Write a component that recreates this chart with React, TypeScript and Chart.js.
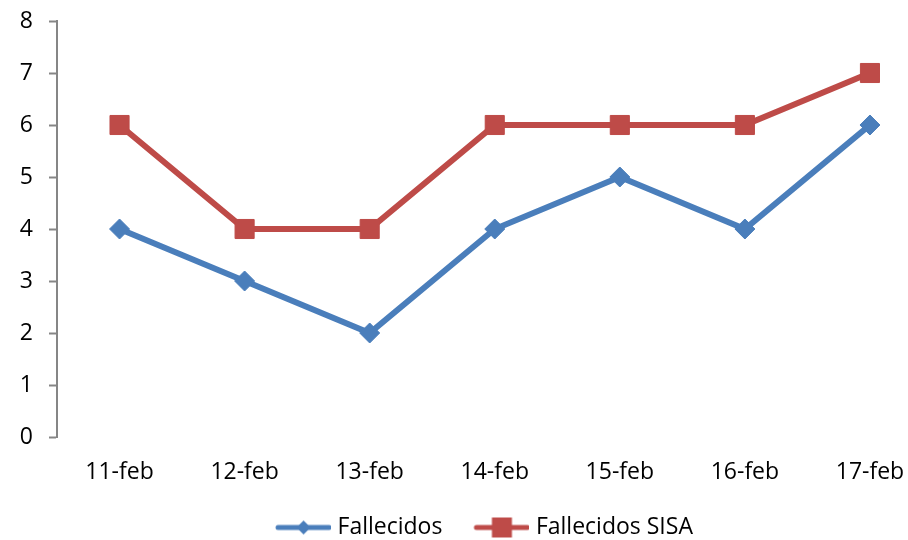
import React, { useEffect, useRef } from "react";
import { Chart, registerables } from "chart.js";

Chart.register(...registerables);

const categories = ["11-feb", "12-feb", "13-feb", "14-feb", "15-feb", "16-feb", "17-feb"];
const fallecidos = [4, 3, 2, 4, 5, 4, 6];
const fallecidosSisa = [6, 4, 4, 6, 6, 6, 7];
const seriesNames = ["Fallecidos", "Fallecidos SISA"];
const yMin = 0;
const yMax = 8;
const yStep = 1;

const BLUE = "#4A7EBB";
const RED = "#BE4B48";
const AXIS = "#868686";
const FONT = "'Open Sans', 'Liberation Sans', sans-serif";
const FS = 23;

function legendImage(color: string, kind: "diamond" | "square"): HTMLCanvasElement {
  const c = document.createElement("canvas");
  c.width = 90;
  c.height = 22;
  const ctx = c.getContext("2d")!;
  ctx.strokeStyle = color;
  ctx.lineWidth = 5;
  ctx.lineCap = "round";
  ctx.beginPath();
  ctx.moveTo(37, 11);
  ctx.lineTo(88, 11);
  ctx.stroke();
  ctx.fillStyle = color;
  const cx = 62.5;
  if (kind === "diamond") {
    ctx.beginPath();
    ctx.moveTo(cx, 4);
    ctx.lineTo(cx + 7, 11);
    ctx.lineTo(cx, 18);
    ctx.lineTo(cx - 7, 11);
    ctx.closePath();
    ctx.fill();
  } else {
    ctx.fillRect(cx - 10, 1, 20, 20);
  }
  return c;
}

export default function App() {
  const ref = useRef<HTMLCanvasElement | null>(null);

  useEffect(() => {
    if (!ref.current) return;
    const imgs = [legendImage(BLUE, "diamond"), legendImage(RED, "square")];
    const chart = new Chart(ref.current, {
      type: "line",
      data: {
        labels: categories,
        datasets: [
          {
            label: seriesNames[0],
            data: fallecidos,
            borderColor: BLUE,
            backgroundColor: BLUE,
            borderWidth: 6,
            pointStyle: "rectRot",
            pointRadius: 10,
            pointBorderWidth: 1,
            pointBorderColor: BLUE,
            pointBackgroundColor: BLUE,
            tension: 0,
          },
          {
            label: seriesNames[1],
            data: fallecidosSisa,
            borderColor: RED,
            backgroundColor: RED,
            borderWidth: 6,
            pointStyle: "rect",
            pointRadius: 13.5,
            pointBorderWidth: 1,
            pointBorderColor: RED,
            pointBackgroundColor: RED,
            tension: 0,
          },
        ],
      },
      options: {
        responsive: false,
        animation: false,
        layout: { padding: { top: 21, left: 0, right: 8, bottom: -9 } },
        scales: {
          x: {
            type: "category",
            offset: true,
            grid: { display: false, drawTicks: false },
            border: { display: false },
            ticks: { padding: 22, color: "#000", font: { family: FONT, size: FS }, maxRotation: 0 },
            afterFit: (s: any) => {
              s.height = 77;
            },
          },
          y: {
            min: yMin,
            max: yMax,
            grid: {
              display: true,
              drawOnChartArea: false,
              drawTicks: true,
              tickLength: 8,
              tickColor: AXIS,
              tickWidth: 2,
            },
            border: { display: true, color: AXIS, width: 2 },
            ticks: { stepSize: yStep, padding: 16, color: "#000", font: { family: FONT, size: FS, lineHeight: 0.3 } },
            afterFit: (s: any) => {
              s.width = 57;
            },
          },
        },
        plugins: {
          tooltip: { enabled: false },
          legend: {
            position: "bottom",
            labels: {
              usePointStyle: true,
              pointStyleWidth: 80,
              boxHeight: 22,
              padding: 2,
              color: "#000",
              font: { family: FONT, size: FS, lineHeight: 1 },
              generateLabels: (c: any) =>
                (Chart.defaults.plugins.legend.labels.generateLabels as any)(c).map((l: any, i: number) => ({
                  ...l,
                  pointStyle: imgs[i],
                })),
            },
          },
        },
      },
    });
    return () => chart.destroy();
  }, []);

  return (
    <div style={{ position: "absolute", left: 0, top: 0, width: 908, height: 540, overflow: "hidden", background: "#fff" }}>
      <canvas ref={ref} width={947} height={540} />
    </div>
  );
}
